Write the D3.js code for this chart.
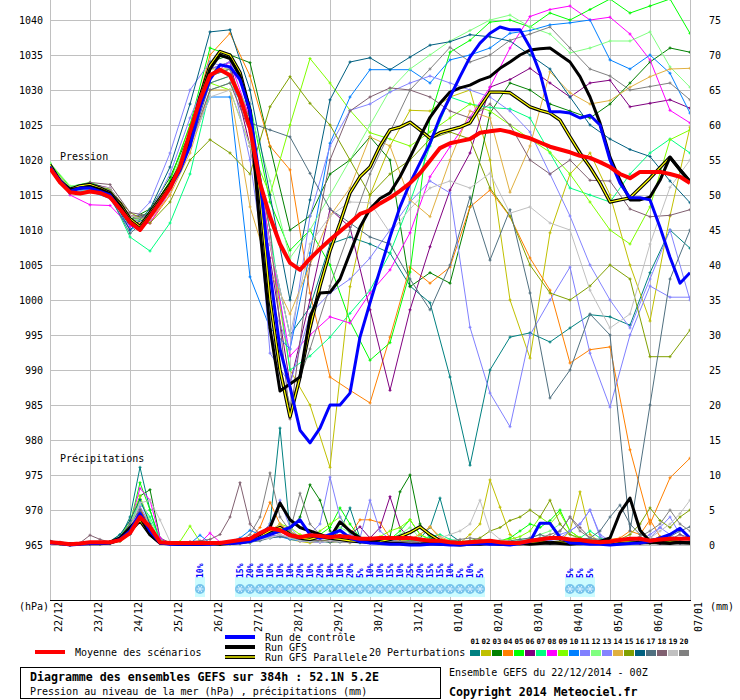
<!DOCTYPE html>
<html>
<head>
<meta charset="utf-8">
<script src="https://cdn.jsdelivr.net/npm/d3@7"></script>
<style>
  body { margin: 0; background: #fff; }
  text { font-family: "DejaVu Sans Mono", monospace; fill: #000; }
</style>
</head>
<body>
<div id="chart"></div>
<script>
// ---------- data ----------
const dateLabels = ["22/12","23/12","24/12","25/12","26/12","27/12","28/12","29/12","30/12","31/12",
                    "01/01","02/01","03/01","04/01","05/01","06/01","07/01"];
const pressureTicks = [965,970,975,980,985,990,995,1000,1005,1010,1015,1020,1025,1030,1035,1040];
const precipTicks = [0,5,10,15,20,25,30,35,40,45,50,55,60,65,70,75];

const memberNames = ["01","02","03","04","05","06","07","08","09","10",
                     "11","12","13","14","15","16","17","18","19","20"];
const memberColors = ["#008080","#c0c000","#008000","#ff8000","#00ff00","#800080","#00ff80","#ff00ff","#80ff00","#0080ff",
                      "#8080ff","#80ff80","#8484ff","#e0b040","#80a000","#006080","#507080","#806070","#c0c0c0","#808080"];

// snow probability (hour of run, %)
const snowHours = [90, 114,120,126,132,138,144,150,156,162,168,174,180,186,192,198,204,210,216,222,228,234,240,246,252,258, 312,318,324];
const snowPct   = [10, 15,20,10,10,10,10,20,10,20,10,10,20,5,10,10,15,10,25,20,15,15,10,5,10,5, 5,5,5];

// mean / control / GFS / GFS parallel : 6 h steps, hPa
const presMean = [1018.8,1016.8,1015.4,1015.2,1015.5,1015.3,1014.7,1013,1011.1,1010,
  1011.9,1013.9,1016,1019,1024,1028.6,1032.1,1032.9,1032.1,1029,
  1024.5,1016.7,1011.9,1008,1005.3,1004.3,1005.9,1007.3,1008.6,1009.8,
  1011,1012.3,1012.8,1013.8,1014.6,1015.6,1016.7,1018.1,1019.9,1021.7,
  1022.4,1022.7,1023,1023.9,1024.1,1024.3,1024,1023.5,1023.1,1022.5,
  1021.9,1021.5,1021.1,1020.6,1020.3,1019.7,1019,1018,1017.4,1018.3,
  1018.3,1018.3,1018,1017.6,1016.7];
const presControl = [1019,1017,1015.5,1016,1016,1015.5,1015,1013,1011,1010,
  1012,1014,1016,1018.5,1022,1027.5,1031.5,1033.6,1033.3,1031.5,
  1027,1017,1004,993,987.6,981.4,979.6,981.7,985,985,
  986.7,994.7,999.6,1004.3,1009,1013.3,1016.7,1019.6,1022.4,1026.1,
  1029,1031.9,1034.7,1036.7,1038.1,1039,1038.6,1038.6,1036.1,1032.4,
  1026.9,1026.9,1026.7,1026,1026.4,1025,1020,1016.7,1014.6,1014.6,
  1014.3,1010.4,1006.1,1002.4,1003.9];
const presGFS = [1019,1016.8,1015.8,1016,1016.2,1015.8,1015.2,1013.5,1011.3,1010.2,
  1012.2,1014.2,1016.2,1018.8,1023,1028.5,1033,1035,1034.5,1032,
  1027,1010,996,987,988,989,997.6,1001,1001.1,1003,
  1006.7,1010.4,1013,1014.5,1015.3,1017.6,1020.4,1023.3,1026.1,1028.1,
  1029.7,1030.3,1030.7,1031.4,1031.9,1033.1,1034,1035,1035.7,1035.9,
  1036,1035,1034,1031.9,1029,1025.3,1020.4,1017.1,1014.3,1014.3,
  1014.7,1017.1,1020.4,1018.6,1016.9];
const presPara = [1019.3,1017,1015.8,1016.3,1016.5,1016,1015.3,1013.8,1011.6,1010.5,
  1012.5,1014.5,1016.5,1019,1023.5,1029,1033.5,1035.5,1035,1032.5,
  1027,1015,1000,990,983.3,989,996,1002,1007,1011,
  1015.3,1017.6,1019,1022,1024.3,1024.7,1025.4,1024.3,1023.1,1023.9,
  1024.3,1024.7,1025.3,1027.6,1029.7,1029.7,1029.6,1028.6,1027.6,1027.1,
  1026.7,1025.7,1023.3,1021,1019,1016.7,1014,1014.3,1014.6,1016,
  1017.4,1018.9,1020.4,1018.6,1016.9];

// the 20 perturbations : 12 h steps, hPa
const pres01 = [1019,1015.5,1016,1015,1010.5,1012,1016,1024,1032,1033,1025,1008,995,999,1008,1009,1008,1006.7,1002,999.6,989,976.4,990,994.7,995.3,994,996,997.9,997.6,996.4,1003.9,1010,1007.4];
const pres02 = [1019,1016,1016.5,1015.5,1011,1012.5,1017,1025,1033,1033,1026,1008,990,985,976.1,1001.9,1015,1022,1027.1,1027,1029,1030,1020,1000,991.7,1009.6,1018,1021,1015,1005,997,1012,1024.7];
const pres03 = [1019.2,1015.8,1016.3,1015.3,1011.5,1013,1017.5,1024,1034,1035,1033.9,1021.9,1010,1012,1018,1020,1023.3,1020,1001.9,1003.9,1002.4,1013.3,1026.7,1031,1030,1028,1027,1026,1028,1031,1034,1036,1035.4];
const pres04 = [1018.8,1015.2,1015.7,1015,1011,1011,1015,1024,1035,1038.1,1032,1022,1018.6,1001,989,987.1,985.3,994.7,1004.7,1002.4,1004.7,1013.3,1015.7,1011.9,1006,1001.4,991,992.9,993.3,978.6,968,974.6,977.4];
const pres05 = [1019.5,1016.2,1016.8,1015.8,1011.5,1012.5,1017,1025,1036,1035,1028,1014,1007.1,1010,1005,997,991.4,993.9,1004,1026,1035.4,1037.1,1039.7,1040,1039,1041,1040,1041.5,1043,1041,1042,1043,1038.1];
const pres06 = [1019,1015.7,1016.6,1016,1012,1012,1016.5,1023,1033,1034,1022,1006,988,1000,1013,1010.4,998.6,987.1,998.6,1007.6,1015.7,1021,1030.4,1031.5,1033.1,1031,1029,1031,1031.4,1027.6,1028.1,1028.6,1027.4];
const pres07 = [1019,1015.5,1015.8,1015,1009,1007,1011,1018,1030,1031,1026,1010,990,992,994.7,998.1,1001.4,1006.7,1014,1022,1029,1028,1027.5,1027.3,1026,1021,1016,1015,1014,1018,1021,1023,1021];
const pres08 = [1018.7,1015,1013.6,1013.5,1010.5,1011,1015.5,1022,1032,1034,1026,1008,992,995,997.6,996.7,1001,1004.3,1009.6,1017.6,1021.9,1026.1,1030.4,1036,1040.5,1041.5,1042,1040,1040.4,1038,1034.3,1027.1,1025.3];
const pres09 = [1019.4,1016,1016.3,1015.5,1011,1012,1016,1024,1031,1030,1022,1015,1025,1034.5,1031,1027.1,1023.9,1023,1022,1024,1026,1028,1027,1025,1023,1021.1,1018,1014,1010,1008,1013.3,1022.9,1024.3];
const pres10 = [1019,1015.3,1015.5,1014.5,1010,1011.5,1016,1022,1029,1029,1003.3,996,993,1006.7,1022.4,1029,1032.9,1032.9,1032.9,1031,1034.3,1035,1036,1038.1,1038.5,1039.3,1039.6,1040,1034.3,1033,1035,1032.4,1026.7];
const pres11 = [1019.1,1015.6,1016,1015.2,1010.8,1012.5,1018,1026,1033,1034,1028,992.4,988,998,1001,1003,1006,1010,1014,1017,1015.3,996.1,986.7,981.9,995,1000,1004.7,992.4,984.7,995,1002,1000.4,1000.4];
const pres12 = [1019.6,1016.3,1016.5,1015.7,1011.3,1012,1016.5,1024,1031,1032,1027,1017,1006,1010,1015,1020,1025,1030,1033,1035,1037,1038.5,1040,1040.7,1039,1038,1035.3,1036,1037,1037,1038.3,1033.3,1030.4];
const pres13 = [1019,1015.4,1015.9,1015,1011,1014,1021,1030,1034,1033,1020,1000,993,1012,1022,1027.1,1028,1029.7,1031,1032,1031,1030,1029,1027,1024,1018,1012,1005,1000,996,1003,1010,1000];
const pres14 = [1018.8,1015.5,1016.2,1015.6,1012,1011.5,1015,1021,1030,1030,1013.3,1004,998,1005,1012,1016,1023.3,1022,1014.3,1011.9,1020,1027,1026,1015.4,1022,1032.6,1029.6,1028,1028.5,1030.4,1031.9,1033,1033.1];
const pres15 = [1019,1015.8,1016.5,1015.8,1012.5,1011,1014,1020,1022.9,1021,1018,1027.6,1031.9,1028.1,1025,1020,1015,1018,1020,1023,1024,1023,1016,1012,1005,1001,1000,1002,1005,1003,991.9,991.9,995.7];
const pres16 = [1019.2,1015.7,1016,1015.2,1010,1013,1019,1028,1038.3,1038.6,1030,1015,1000,1014.3,1028.6,1034,1034.6,1032.9,1034.7,1036.4,1036.9,1037.9,1037.6,1037,1035,1033,1029,1025,1023,1021.5,1020.5,1017,1013.9];
const pres17 = [1018.9,1015.2,1015.6,1014.8,1009.5,1012,1016,1022,1031,1032,1025.3,1024.3,1023.3,1018.1,1013,1011,1009,1008,1003,998.6,1005,1014.7,1005.7,1012.9,1001,986,990,998,995,967,985,1003,1010];
const pres18 = [1019,1015.9,1016.8,1016.5,1012.5,1012,1016,1022,1030,1031,1024,1010,983,1005,1020,1027,1029,1030.3,1030,1029,1027,1026,1028,1025,1020,1018,1020,1017.1,1017,1013,1011.9,1012.1,1012.9];
const pres19 = [1019.1,1016,1016.4,1016,1012,1011.5,1015.5,1022,1029,1030,1022,1008,995,1008,1012,1014,1013.9,1009.6,1013,1016,1017,1016,1018.1,1012.4,1013.3,1011,1010,1001.4,996,998,1008,1016.1,1020];
const pres20 = [1018.9,1015.6,1016.2,1015.6,1011.5,1012,1016,1023,1032,1033,1025,996,985,993,1002,1010,1018,1024,1030,1033,1036.1,1034,1035,1037.1,1038,1039,1036,1033,1032,1030,1030.5,1031,1028.6];

// precipitation, 6 h steps, mm
const rainMean = [0.4,0.3,0.1,0.2,0.4, 0.4,0.4,0.7,1.7,4.0, 2.6,0.4,0.3,0.3,0.3, 0.3,0.3,0.3,0.5,0.7, 0.9,1.7,2.4,2.1,1.4, 1.1,1.4,1.3,1.1,1.3, 1.1,0.9,0.9,1.0,1.0, 1.0,1.0,0.8,0.6,0.6, 0.4,0.3,0.4,0.5,0.6, 0.4,0.3,0.3,0.6,0.8, 1.0,1.0,0.8,0.7,0.5, 0.4,0.5,0.7,0.9,0.9, 0.6,0.8,0.9,0.9,0.9];
const rainControl = [0.3,0.2,0,0.1,0.2, 0.2,0.3,0.8,2,4.5, 2,0.3,0.1,0.1,0.1, 0.1,0.1,0.2,0.2,0.3, 0.5,1,1.5,2,2.5, 3.6,1.5,1,1.5,2.1, 1,0.5,0.3,0.2,0.1, 0.1,0,0,0.1,0.1, 0,0,0.1,0.2,0.1, 0.1,0,0.2,0.5,3.1, 3.1,1.1,0.3,0.2,0.1, 0.1,0,0.1,0.2,0.3, 0.5,1,1.5,2.4,1];
const rainGFS = [0.4,0.3,0.1,0.2,0.2, 0.3,0.4,1,2.5,4, 1.5,0.3,0.2,0.1,0.1, 0.1,0.2,0.1,0.2,0.4, 0.8,1.5,2.5,6,3.6, 2.5,2,1.5,1,3.3, 2,1,0.5,0.3,0.2, 0.2,0.1,0.1,0.2,0.1, 0.1,0,0.1,0.1,0.2, 0.1,0.1,0.2,0.1,0.2, 0.3,0.2,0.1,0.2,0.3, 0.5,1,4.6,6.7,2.1, 0.5,0.3,0.2,0.4,0.3];
const rainPara = [0.4,0.2,0.1,0.2,0.2, 0.2,0.3,0.8,2,3.5, 1.5,0.3,0.2,0.1,0.1, 0.1,0.2,0.2,0.3,0.4, 0.7,1.2,2,2.5,1.5, 1,0.8,1.2,1,0.8, 0.6,0.5,0.4,0.5,0.8, 1.2,1.8,2.6,1.5,0.6, 0.3,0.2,0.3,0.2,0.3, 0.2,0.3,0.2,0.3,0.4, 0.3,0.4,0.3,0.2,0.3, 0.4,0.3,0.5,0.4,0.3, 0.4,0.3,0.4,0.3,0.3];

const rain01 = [0.5,0.3,0,0.2,0.2, 0.2,0.3,1,4,11.1, 5,0.5,0.2,0.3,0.2, 0.2,0.1,0.3,0.2,0.4, 0.3,1.5,3,16.7,2, 1,0.5,1.2,0.8,2, 5.3,1,0.5,0.8,0.6, 1.2,0.5,1,2.5,6.7, 1.5,0.5,0.3,0.2,0.4, 0.3,0.2,0.5,0.3,1, 0.4,0.3,0.2,0.5,0.3, 0.2,0.3,0.5,0.4,0.3, 0.2,0.5,1,0.4,0.3];
const rain02 = [0.3,0.2,0,0.1,0.2, 0.1,0.2,0.5,1.5,5, 3,0.4,0.2,0.1,0.1, 0.2,0.1,0.2,0.1,0.3, 0.5,1,2,1.5,0.8, 0.5,0.3,0.6,0.4,0.5, 0.3,0.8,1,0.5,0.3, 0.2,0.3,0.5,0.3,0.4, 0.5,0.3,1.5,3,9.3, 5.4,1.5,0.4,0.6,0.5, 0.3,0.5,2,7.6,1.5, 0.4,0.3,0.5,0.3,0.4, 0.6,1.2,0.8,0.4,0.3];
const rain03 = [0.4,0.2,0,0.2,0.3, 0.3,0.2,0.6,2,7, 7.9,1,0.3,0.2,0.2, 0.1,0.2,0.1,0.3,0.2, 0.4,0.8,1.5,2.5,2, 4,8.6,6.4,2,1, 0.5,0.4,0.6,0.8,1.2, 7.6,10,3,1,0.6, 0.4,0.3,0.2,0.5,0.4, 0.3,0.2,0.4,0.3,0.5, 0.4,0.3,0.5,0.4,0.3, 0.2,0.3,0.4,0.5,0.3, 0.4,0.3,0.5,0.4,0.3];
const rain04 = [0.3,0.2,0.1,0.2,0.1, 0.2,0.3,0.8,2.5,5.5, 2,0.4,0.2,0.3,0.2, 0.3,0.2,0.2,0.4,0.6, 1,2.5,6.1,3,1.5, 1,0.8,1.5,1,0.7, 1.5,3.6,3.6,3.2,1, 0.6,0.8,1.5,2.6,1, 0.5,0.3,0.4,0.6,0.5, 0.3,0.4,0.2,0.5,0.6, 0.4,0.3,0.5,0.6,0.4, 0.5,0.8,1,2,1.5, 3.6,1.2,0.8,0.6,0.4];
const rain05 = [0.5,0.3,0.1,0.2,0.2, 0.3,0.4,1,3,8.9, 5,0.6,0.3,0.2,0.3, 0.2,0.3,0.2,0.2,0.3, 0.5,1,1.8,2,1.2, 0.8,1,1.5,2.5,5.3, 3,1,0.6,0.5,0.8, 2,3.6,1.5,0.8,0.5, 0.3,0.4,0.3,0.5,0.4, 0.6,1,2,3,2.5, 3.5,5,2,1,0.5, 0.4,0.3,0.5,0.4,0.6, 0.5,1,0.8,0.5,0.4];
const rain06 = [0.4,0.2,0.1,0.1,0.2, 0.2,0.3,0.8,2,5, 2.5,0.4,0.2,0.2,0.1, 0.1,0.2,0.2,0.3,0.2, 0.4,0.8,1.5,1.2,1, 0.8,0.6,0.5,0.7,1, 1.5,2.6,1,2.5,6.9, 2.5,0.8,0.5,0.4,0.3, 0.2,0.3,0.4,0.3,0.2, 0.3,0.4,0.5,0.3,0.4, 0.3,0.5,0.6,0.4,0.3, 0.4,0.3,0.2,0.5,0.4, 0.3,0.4,0.5,0.3,0.4];
const rain07 = [0.4,0.3,0.1,0.1,0.1, 0.2,0.5,1.5,3,6, 4,0.8,0.3,0.2,0.3, 0.2,0.2,0.3,0.2,0.3, 0.5,1.2,2,2.5,1.5, 1,0.8,0.6,0.5,0.8, 0.6,0.4,0.5,0.3,0.4, 0.5,0.6,0.8,1.2,1.5, 0.8,0.5,0.3,0.4,0.3, 0.5,0.3,0.6,0.4,0.5, 0.4,0.3,0.5,1,2, 1,0.5,0.4,0.3,0.5, 0.4,0.3,0.5,0.4,0.3];
const rain08 = [0.3,0.2,0.1,0.2,0.1, 0.2,0.3,1,3,8.1, 6.4,1,0.2,0.3,0.2, 0.3,1.7,0.4,0.2,0.3, 0.5,0.8,1.5,2,1, 0.6,0.5,0.4,0.6,0.5, 0.4,0.6,0.5,0.4,0.3, 0.5,0.4,0.3,0.5,0.4, 0.3,0.2,0.4,0.3,0.2, 0.2,0.3,0.4,0.3,0.4, 0.3,0.2,0.4,0.5,0.3, 0.2,0.3,0.4,0.3,0.2, 0.3,0.2,0.4,0.3,0.5];
const rain09 = [0.5,0.3,0.1,0.2,0.2, 0.2,0.3,1,3.5,7, 3,0.5,0.3,0.5,2.7, 0.5,0.3,0.2,0.3,0.2, 0.4,1,2,3,2.5, 1.5,1,2,3,4, 2,1,0.8,1.2,2, 2.5,3.6,1.5,0.8,0.6, 0.4,0.5,0.3,0.4,0.5, 0.6,0.8,1.2,2,4, 3,4.6,2,1,0.6, 0.5,0.4,0.3,0.5,0.4, 0.3,0.5,0.6,0.4,0.3];
const rain10 = [0.3,0.2,0.1,0.1,0.2, 0.2,0.3,0.6,1.5,4, 2,0.3,0.2,0.3,0.2, 1.4,0.3,0.2,0.5,1, 2.1,1.5,1,1.2,0.8, 0.6,0.5,0.4,0.6,0.5, 0.4,0.3,0.5,0.4,0.3, 0.4,0.5,0.6,0.4,0.3, 0.2,0.3,0.4,0.3,0.2, 0.3,0.2,0.3,0.4,0.3, 0.2,0.3,0.4,0.3,0.2, 0.3,0.4,0.3,0.2,0.3, 0.4,0.3,0.2,0.3,0.4];
const rain11 = [0.3,0.2,0.1,0.2,0.2, 0.3,0.3,0.8,2.2,5.5, 3,0.5,0.2,0.2,0.3, 0.2,0.3,0.2,0.3,0.4, 0.6,1.5,3,6.4,2.5, 1,1.5,3,9.7,4, 1.5,1,6.4,2,0.8, 0.5,0.4,0.6,0.5,0.4, 0.3,0.4,0.5,0.3,0.4, 0.5,0.4,0.3,0.5,0.6, 0.8,1.5,2,3,5, 1.5,0.6,0.4,0.5,0.6, 1.5,2.5,4,1.5,0.6];
const rain12 = [0.4,0.2,0.1,0.2,0.2, 0.2,0.4,1,2.8,6.5, 3.5,0.5,0.3,0.2,0.2, 0.3,0.2,0.3,0.2,0.3, 0.6,1,1.5,2,1.5, 1,0.8,1,1.5,2.5, 1.8,1,0.6,0.8,1, 1.5,2.5,1,0.6,0.4, 0.3,0.4,0.5,0.4,0.3, 0.4,0.6,0.8,1,1.5, 2,3,1.5,0.8,0.5, 0.4,0.3,0.4,0.5,0.4, 0.3,0.4,0.5,0.3,0.4];
const rain13 = [0.3,0.2,0.1,0.1,0.2, 0.2,0.3,0.7,2,4.5, 2.5,0.4,0.2,0.2,0.2, 0.3,0.2,0.3,0.2,0.3, 0.5,0.8,1.2,1.5,1, 0.8,0.6,0.8,1,0.7, 0.5,0.4,0.6,0.5,0.4, 0.3,0.5,0.4,0.3,0.5, 0.4,0.3,0.5,0.6,0.4, 0.3,0.4,0.5,0.6,0.8, 0.6,1,2,3,5, 1.2,0.5,0.4,0.6,0.8, 1,2.5,1.5,0.6,0.4];
const rain14 = [0.4,0.3,0.1,0.2,0.2, 0.3,0.4,1,2.5,4.5, 1.8,0.4,0.2,0.3,0.2, 0.2,0.3,0.2,0.3,0.4, 0.6,1.2,2,3,2, 1.2,0.8,0.6,0.8,1, 0.8,0.6,0.5,0.7,0.5, 0.6,0.8,1.5,2.6,1.2, 0.6,0.4,0.3,0.5,0.4, 0.3,0.4,0.6,0.5,0.4, 0.3,0.5,0.4,0.6,0.5, 0.4,0.3,0.5,0.4,0.3, 0.4,0.5,0.3,0.4,0.3];
const rain15 = [0.3,0.2,0.1,0.1,0.2, 0.2,0.3,0.8,2.5,3.5, 1.5,0.3,0.2,0.2,0.3, 0.2,0.3,0.2,0.4,0.3, 0.5,1,1.5,2,1.2, 0.8,0.6,0.5,0.8,0.6, 0.5,0.4,0.6,0.5,0.4, 0.5,0.6,0.4,0.5,0.3, 0.4,0.5,0.6,1,2, 2.5,3.5,4,5,4, 6.4,3,1.5,1,0.8, 0.6,0.5,0.8,1.5,3, 5.3,3.5,2.5,4,5];
const rain16 = [0.4,0.3,0.1,0.2,0.2, 0.3,0.5,1.5,3.5,6.5, 3,0.5,0.3,0.2,0.2, 0.2,0.3,0.2,0.3,0.4, 0.6,1.2,2,2.5,1.5, 0.8,0.6,0.5,0.4,0.6, 0.5,0.4,0.3,0.5,0.4, 0.3,0.4,0.5,0.4,0.3, 0.2,0.3,0.4,0.3,0.2, 0.3,0.4,0.3,0.2,0.3, 0.4,0.3,0.5,0.4,0.3, 0.4,0.5,0.8,1,0.6, 0.5,0.4,0.6,0.5,0.4];
const rain17 = [0.4,0.2,0.1,0.2,0.2, 0.2,0.4,1.2,3,5, 2,0.4,0.2,0.2,0.3, 0.2,0.2,0.3,0.2,0.3, 0.4,0.6,1,1.2,1, 0.7,0.5,0.6,0.5,0.4, 0.6,0.5,0.4,0.6,0.5, 0.4,0.5,0.6,0.8,0.6, 0.5,0.4,0.6,0.5,0.4, 0.5,0.6,0.8,1,1.5, 1,0.8,0.6,0.8,1, 2,4,5.7,3,1.5, 1,0.8,1.2,2,2.6];
const rain18 = [0.6,0.4,0.2,0.3,1.4, 0.8,0.4,0.8,2,4, 1.5,0.3,0.2,0.3,0.5, 0.6,0.8,1.5,4,8.9, 3,1.5,2,2.5,1.5, 1,0.8,0.6,0.5,0.6, 0.5,0.4,0.6,0.8,0.6, 0.5,0.4,0.3,0.5,0.4, 0.3,0.4,0.5,0.6,0.4, 0.3,0.4,0.5,0.6,0.8, 1,2,4,2.5,1, 0.6,0.5,0.8,0.6,0.5, 0.4,0.6,0.8,1.5,1];
const rain19 = [0.3,0.2,0.1,0.2,0.2, 0.2,0.3,0.8,2.5,6, 6.4,3.6,0.5,0.3,0.2, 0.3,0.2,0.3,0.2,0.3, 0.4,0.8,1,1.5,1, 0.6,0.5,0.4,0.6,0.5, 0.4,0.5,0.6,0.5,0.4, 0.3,0.4,0.5,0.6,1, 1.5,2,3,6.4,2, 0.8,0.5,0.4,0.6,0.5, 0.4,0.3,0.5,0.6,0.4, 0.5,0.6,0.8,1,0.8, 1,2,3,4.5,6.4];
const rain20 = [0.3,0.2,0.1,0.2,0.3, 0.2,0.3,0.8,2,4.5, 2,0.4,0.2,0.2,0.3, 0.2,0.3,0.2,0.4,0.6, 1.5,4,10.3,4,2, 7.4,3,1.5,1,0.8, 0.6,0.5,0.8,0.6,0.5, 0.4,0.5,0.6,0.5,0.4, 0.6,0.8,1,0.8,0.6, 0.5,0.4,0.6,0.8,1, 1.5,2,4,2,1, 0.8,0.6,0.5,0.8,1.2, 2,3,5,3,2];

const memberPres = [pres01,pres02,pres03,pres04,pres05,pres06,pres07,pres08,pres09,pres10,
                    pres11,pres12,pres13,pres14,pres15,pres16,pres17,pres18,pres19,pres20];
const memberRain = [rain01,rain02,rain03,rain04,rain05,rain06,rain07,rain08,rain09,rain10,
                    rain11,rain12,rain13,rain14,rain15,rain16,rain17,rain18,rain19,rain20];

// ---------- drawing ----------
const W = 740, H = 700;
const left = 50, right = 690;

const svg = d3.select('#chart').append('svg')
    .attr('width', W)
    .attr('height', H);

const x = d3.scaleLinear().domain([0, 384]).range([left, right]);
const yP = d3.scaleLinear().domain([965, 1040]).range([545, 20]);
const yR = d3.scaleLinear().domain([0, 75]).range([545, 20]);

const dayHours = dateLabels.map((d, i) => i * 24);

//grid
svg.append('g')
    .selectAll('line')
    .data(pressureTicks)
    .enter()
    .append('line')
    .attr('x1', left).attr('x2', right)
    .attr('y1', d => Math.round(yP(d)) + 0.5)
    .attr('y2', d => Math.round(yP(d)) + 0.5)
    .style('stroke', '#c0c0c0');

svg.append('g')
    .selectAll('line')
    .data(dayHours)
    .enter()
    .append('line')
    .attr('x1', d => Math.round(x(d)) + 0.5)
    .attr('x2', d => Math.round(x(d)) + 0.5)
    .attr('y1', 0).attr('y2', 600)
    .style('stroke', '#c0c0c0');

// snow band + symbols
let runs = [];
snowHours.forEach((h, i) => {
    if (i > 0 && h - snowHours[i - 1] === 6) runs[runs.length - 1].push(h);
    else runs.push([h]);
});
svg.append('g')
    .selectAll('rect')
    .data(runs)
    .enter()
    .append('rect')
    .attr('x', d => x(d[0]) - 5)
    .attr('width', d => x(d[d.length - 1]) - x(d[0]) + 10)
    .attr('y', 577).attr('height', 20)
    .style('fill', '#ccfcff');

let flakes = svg.append('g')
    .selectAll('g')
    .data(snowHours)
    .enter()
    .append('g')
    .attr('transform', d => 'translate(' + x(d) + ',589)');
flakes.append('circle')
    .attr('r', 5)
    .style('fill', '#78c4ec');
flakes.append('path')
    .attr('d', 'M-3.5,0H3.5M-1.8,-3L1.8,3M-1.8,3L1.8,-3')
    .style('stroke', '#d8f0ff')
    .style('stroke-width', 1);

svg.append('g')
    .selectAll('text')
    .data(snowHours)
    .enter()
    .append('text')
    .attr('transform', d => 'translate(' + (x(d) + 3) + ',578) rotate(-90)')
    .style('font-size', '8px')
    .style('font-weight', 'bold')
    .style('fill', '#0000ff')
    .text((d, i) => snowPct[i] + '%');

// clip for the curves
svg.append('clipPath').attr('id', 'plotclip')
    .append('rect').attr('x', left).attr('y', 0).attr('width', right - left).attr('height', 600);

const plot = svg.append('g').attr('clip-path', 'url(#plotclip)');

function lineP(step) {
    return d3.line().x((d, i) => x(i * step)).y(d => yP(d));
}
function lineR(step) {
    return d3.line().x((d, i) => x(i * step)).y(d => yR(d));
}

function drawMember(values, step, yScale, color) {
    let lineFn = yScale === yP ? lineP(step) : lineR(step);
    plot.append('path')
        .attr('d', lineFn(values))
        .style('fill', 'none')
        .style('stroke', color)
        .style('stroke-width', 1);
    plot.append('g')
        .selectAll('path')
        .data(values)
        .enter()
        .append('path')
        .attr('transform', (d, i) => 'translate(' + x(i * step) + ',' + yScale(d) + ')')
        .attr('d', 'M-1.5,0H1.5M0,-1.5V1.5')
        .style('stroke', color)
        .style('stroke-width', 1);
}

//draw the 20 perturbations
memberPres.forEach((p, m) => {
    drawMember(memberRain[m], 6, yR, memberColors[m]);
    drawMember(p, 12, yP, memberColors[m]);
});

function drawBold(values, yScale, color, width) {
    plot.append('path')
        .attr('d', (yScale === yP ? lineP(6) : lineR(6))(values))
        .style('fill', 'none')
        .style('stroke', color)
        .style('stroke-width', width)
        .style('stroke-linejoin', 'round');
}

// GFS parallel : black with yellow core
drawBold(rainPara, yR, '#000', 3.4);
drawBold(rainPara, yR, '#ffff00', 1.2);
drawBold(presPara, yP, '#000', 3.4);
drawBold(presPara, yP, '#ffff00', 1.2);
// GFS and control
drawBold(rainGFS, yR, '#000', 3);
drawBold(presGFS, yP, '#000', 3);
drawBold(rainControl, yR, '#0000ff', 3);
drawBold(presControl, yP, '#0000ff', 3);
// mean
drawBold(rainMean, yR, '#ff0000', 4);
drawBold(presMean, yP, '#ff0000', 4);

// axes
let axL = svg.append('g')
    .attr('transform', 'translate(' + left + ',0)')
    .call(d3.axisLeft(yP).tickValues(pressureTicks).tickSize(0).tickPadding(7).tickFormat(d3.format('d')));
let axR = svg.append('g')
    .attr('transform', 'translate(' + right + ',0)')
    .call(d3.axisRight(yR).tickValues(precipTicks).tickSize(0).tickPadding(19).tickFormat(d3.format('d')));
[axL, axR].forEach(a => {
    a.select('.domain').remove();
    a.selectAll('text').style('font-size', '10px').style('font-family', '"DejaVu Sans Mono", monospace');
});

let axB = svg.append('g')
    .attr('transform', 'translate(0,600)')
    .call(d3.axisBottom(x).tickValues(dayHours).tickSize(0).tickFormat((d, i) => dateLabels[i]));
axB.select('.domain').remove();
axB.selectAll('text')
    .attr('transform', 'rotate(-90)')
    .attr('x', -2)
    .attr('y', 11.5)
    .attr('dy', 0)
    .style('text-anchor', 'end')
    .style('font-size', '10px')
    .style('font-family', '"DejaVu Sans Mono", monospace');

svg.append('line')
    .attr('x1', left).attr('x2', right + 1)
    .attr('y1', 600.5).attr('y2', 600.5)
    .style('stroke', '#000');

// texts in the plot
function label(txt, px, py, size, bold) {
    return svg.append('text')
        .attr('x', px).attr('y', py)
        .style('font-size', size + 'px')
        .style('font-weight', bold ? 'bold' : 'normal')
        .text(txt);
}
label('Pression', 60, 160, 10);
label('Précipitations', 60, 462, 10);
label('(hPa)', 19, 610, 10);
label('(mm)', 710, 610, 10);

// legend
function legendLine(x1, y, color, width, core) {
    svg.append('line').attr('x1', x1).attr('x2', x1 + 30).attr('y1', y).attr('y2', y)
        .style('stroke', color).style('stroke-width', width);
    if (core) {
        svg.append('line').attr('x1', x1).attr('x2', x1 + 30).attr('y1', y).attr('y2', y)
            .style('stroke', core).style('stroke-width', 1.4);
    }
}
legendLine(35, 652, '#ff0000', 4);
label('Moyenne des scénarios', 75, 656, 10);
legendLine(225, 637, '#0000ff', 4);
label('Run de contrôle', 265, 641, 10);
legendLine(225, 647, '#000', 4);
label('Run GFS', 265, 651, 10);
legendLine(225, 657, '#000', 4, '#ffff00');
label('Run GFS Parallele', 265, 661, 10);
label('20 Perturbations', 369, 656, 10);

let lg = svg.append('g')
    .selectAll('g')
    .data(memberNames)
    .enter()
    .append('g')
    .attr('transform', (d, i) => 'translate(' + (470 + i * 11) + ',0)');
lg.append('text')
    .attr('x', 0.5).attr('y', 644)
    .style('font-size', '7.4px')
    .style('font-weight', 'bold')
    .text(d => d);
lg.append('rect')
    .attr('x', 0).attr('y', 650)
    .attr('width', 10).attr('height', 6)
    .style('fill', (d, i) => memberColors[i]);

// title box
svg.append('rect')
    .attr('x', 20.5).attr('y', 667.5)
    .attr('width', 420).attr('height', 31)
    .style('fill', 'none')
    .style('stroke', '#000');
label('Diagramme des ensembles GEFS sur 384h : 52.1N 5.2E', 30, 681, 11.6, true);
label('Pression au niveau de la mer (hPa) , précipitations (mm)', 30, 695, 10);
label('Ensemble GEFS du 22/12/2014 - 00Z', 449, 676, 10);
label('Copyright 2014 Meteociel.fr', 449, 696, 11.6, true);
</script>
</body>
</html>
